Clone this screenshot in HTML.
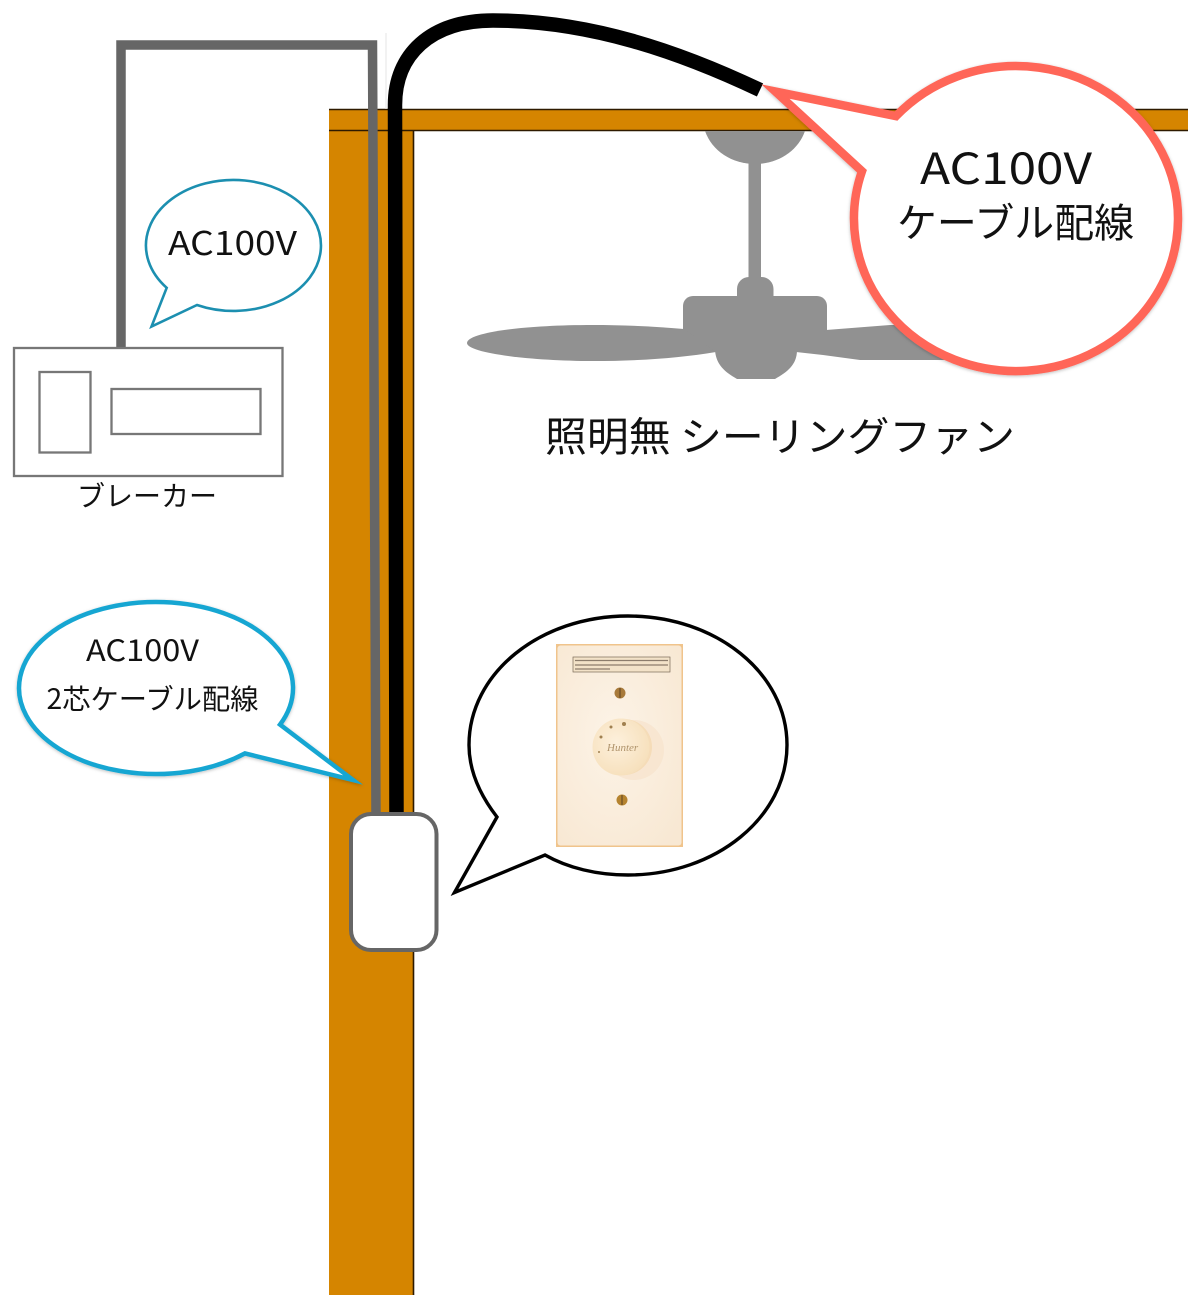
<!DOCTYPE html>
<html lang="ja"><head><meta charset="utf-8"><title>AC100V 配線図</title>
<style>
html,body{margin:0;padding:0;background:#fff;width:1188px;height:1295px;overflow:hidden}
svg{display:block}
text{font-family:"Noto Sans CJK JP","Liberation Sans",sans-serif;fill:#111;font-weight:400}
</style></head><body>
<svg width="1188" height="1295" viewBox="0 0 1188 1295" xmlns="http://www.w3.org/2000/svg">
<defs>
<radialGradient id="k" cx="42%" cy="42%" r="65%"><stop offset="0" stop-color="#fdf0dc"/><stop offset="1" stop-color="#f6dfba"/></radialGradient>
<radialGradient id="p" cx="45%" cy="45%" r="70%"><stop offset="0" stop-color="#fcf3e7"/><stop offset="1" stop-color="#f8e8d3"/></radialGradient>
<filter id="s" x="-5%" y="-5%" width="110%" height="110%"><feDropShadow dx="0" dy="1" stdDeviation="1.500" flood-color="#000" flood-opacity=".25"/></filter>
</defs>
<rect width="1188" height="1295" fill="#fff"/>

<!-- wood -->
<rect x="329" y="109" width="859" height="22" fill="#d58500"/>
<rect x="329" y="109" width="85" height="1186" fill="#d58500"/>
<path d="M329 109.500H1188M329 130.500H1188M413.500 131V1295" stroke="#2e1a00" stroke-width="1.600" fill="none"/>
<path d="M386 33V109" stroke="#e6e6e6" stroke-width="1" fill="none"/>

<!-- fan -->
<g fill="#919191">
<path d="M705 131H805C798 151 778 164 755 164C732 164 712 151 705 131Z"/>
<rect x="748.500" y="160" width="12.500" height="122"/>
<rect x="737" y="277" width="36.500" height="40" rx="12"/>
<path d="M683 306A10 10 0 0 1 693 296H817A10 10 0 0 1 827 306V330L797 352H715L683 329Z"/>
<path d="M715 350C716 365 725 372 737 379H775C787 372 797 365 797 350Z"/>
<path d="M684 329C650 326 620 325 593 325C520 325 467 333 467 343C467 353 530 361 593 361C640 361 680 358 716 352Z"/>
<path d="M826 330L890 325L925 325L948 360H860L823 355L796 352Z"/>
</g>

<!-- wires -->
<path d="M376 816L372.500 45H121V348" fill="none" stroke="#666" stroke-width="9.500"/>
<path d="M396.500 816L395 105C395 55 430 20.500 493 20.500C590 20.500 680 52 760 90" fill="none" stroke="#000" stroke-width="14.500"/>

<!-- breaker -->
<rect x="14" y="348" width="268.500" height="128" fill="#fff" stroke="#777" stroke-width="2.300"/>
<rect x="39.500" y="372" width="51" height="80.500" fill="#fff" stroke="#777" stroke-width="2.300"/>
<rect x="111.500" y="389" width="149" height="45" fill="#fff" stroke="#777" stroke-width="2.300"/>
<text x="77" y="506" font-size="28" textLength="140" lengthAdjust="spacingAndGlyphs">ブレーカー</text>

<!-- switch box -->
<rect x="351" y="814" width="85.500" height="136" rx="20" fill="#fff" stroke="#666" stroke-width="4"/>

<!-- callout AC100V small -->
<path d="M166.700 287.800A87.500 65.500 0 1 1 197 305L151.500 326.500Z" fill="#fff" stroke="#1c8fb0" stroke-width="2.600" stroke-miterlimit="20"/>
<text x="168" y="255" font-size="33" textLength="129" lengthAdjust="spacingAndGlyphs">AC100V</text>

<!-- callout blue lower -->
<path d="M245 753.400A137 86 0 1 1 280 724.600L353 780Z" fill="#fff" stroke="#18a6d2" stroke-width="4.500" stroke-miterlimit="20" filter="url(#s)"/>
<text x="86" y="661" font-size="29" textLength="113" lengthAdjust="spacingAndGlyphs">AC100V</text>
<text x="46.500" y="709" font-size="28" textLength="212" lengthAdjust="spacingAndGlyphs">2芯ケーブル配線</text>

<!-- callout black -->
<path d="M454.500 892.500L497 817C480 795 469 771 469 745C469 673 540 616 628 616C716 616 787 673 787 745C787 817 716 875 628 875C597 875 568 868 545 855Z" fill="#fff" stroke="#000" stroke-width="3.400" stroke-miterlimit="20"/>

<!-- switch plate -->
<rect x="556" y="644" width="127" height="203" fill="#f0c48c"/>
<rect x="557.500" y="645.500" width="124" height="200" rx="3" fill="url(#p)"/>
<rect x="573" y="657" width="97" height="15" fill="#f3e2c8" stroke="#7a6a58" stroke-width=".7"/>
<path d="M575 660.500H668M575 665H668M575 669H610" stroke="#8d7d6c" stroke-width="1.300"/>
<circle cx="620" cy="693" r="5.500" fill="#a87a3a"/>
<circle cx="622" cy="800" r="5.500" fill="#b5832f"/>
<path d="M620 688V698M622 795V805" stroke="#5a4020" stroke-width="1"/>
<circle cx="634" cy="750" r="30" fill="#f6e3cc" opacity=".7"/>
<circle cx="624" cy="747" r="28" fill="#f5dcb8"/>
<circle cx="621" cy="747" r="28.500" fill="url(#k)"/>
<text x="607" y="751" font-size="11" font-style="italic" style="font-family:'Liberation Serif',serif;fill:#b0946c">Hunter</text>
<circle cx="624" cy="724" r="2" fill="#a08050"/>
<circle cx="611" cy="727" r="1.500" fill="#a08050"/>
<circle cx="601" cy="737" r="1.500" fill="#a08050"/>
<circle cx="599" cy="752" r="1" fill="#a08050"/>

<!-- red callout -->
<path d="M775.500 91.600L896 116.100A162 152.500 0 1 1 862 171.200Z" fill="#fff" stroke="#ff6659" stroke-width="8.500" stroke-miterlimit="20" filter="url(#s)"/>
<text x="920" y="184" font-size="43" textLength="172" lengthAdjust="spacingAndGlyphs">AC100V</text>
<text x="897" y="237" font-size="40" textLength="237" lengthAdjust="spacingAndGlyphs">ケーブル配線</text>

<text x="545" y="451" font-size="40.500" textLength="470" lengthAdjust="spacingAndGlyphs">照明無 シーリングファン</text>
</svg>
</body></html>
